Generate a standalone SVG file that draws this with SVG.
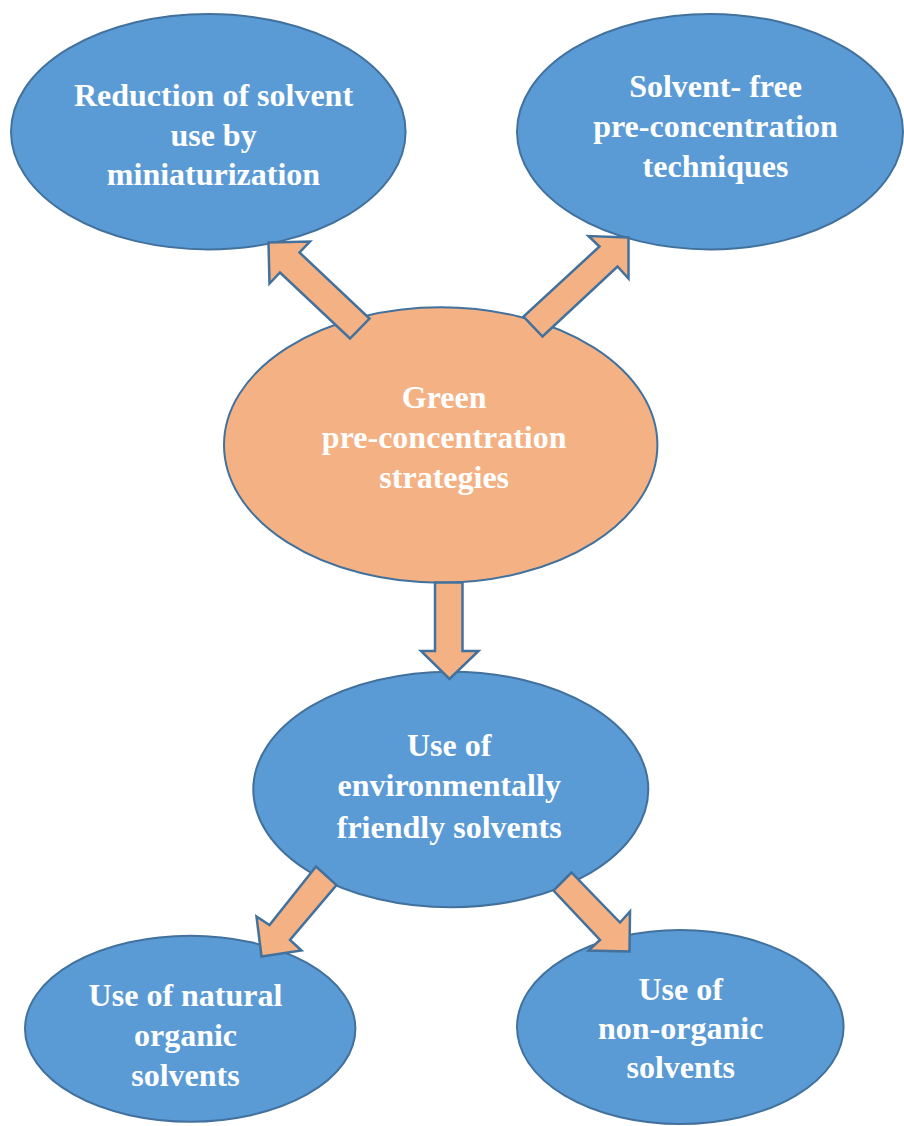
<svg xmlns="http://www.w3.org/2000/svg" width="904" height="1126" viewBox="0 0 904 1126">
<style>
.blue{fill:#5B9BD5;stroke:#41719C;stroke-width:2}
.orange{fill:#F4B183;stroke:#41719C;stroke-width:2}
.arrow{fill:#F4B183;stroke:#41719C;stroke-width:2.5;stroke-linejoin:miter}
.t{font-family:"Liberation Serif","Times New Roman",serif;font-weight:bold;font-size:32px;fill:#FFFFFF;text-anchor:middle}
</style>
<rect width="904" height="1126" fill="#FFFFFF"/>
<g id="node-reduction">
<ellipse class="blue" cx="208.3" cy="131.7" rx="197.3" ry="117.7"/>
<text class="t"><tspan x="213.5" y="106">Reduction of solvent</tspan><tspan x="213.5" y="145.7">use by</tspan><tspan x="213.5" y="185">miniaturization</tspan></text>
</g>
<g id="node-solventfree">
<ellipse class="blue" cx="710" cy="131.7" rx="193" ry="117.7"/>
<text class="t"><tspan x="715.5" y="97.3">Solvent- free</tspan><tspan x="715.5" y="137.3">pre-concentration</tspan><tspan x="715.5" y="176.7">techniques</tspan></text>
</g>
<g id="node-green">
<ellipse class="orange" cx="440.7" cy="445" rx="216.7" ry="137.7"/>
<text class="t"><tspan x="444.2" y="408.3">Green</tspan><tspan x="444.2" y="447.7">pre-concentration</tspan><tspan x="444.2" y="488.3">strategies</tspan></text>
</g>
<g id="node-envfriendly">
<ellipse class="blue" cx="450.8" cy="789.5" rx="197.5" ry="117.8"/>
<text class="t"><tspan x="449.2" y="756">Use of</tspan><tspan x="449.2" y="796">environmentally</tspan><tspan x="449.2" y="837.7">friendly solvents</tspan></text>
</g>
<g id="node-natural">
<ellipse class="blue" cx="190.2" cy="1028.7" rx="165.2" ry="93"/>
<text class="t"><tspan x="185.5" y="1006">Use of natural</tspan><tspan x="185.5" y="1045.7">organic</tspan><tspan x="185.5" y="1085.7">solvents</tspan></text>
</g>
<g id="node-nonorganic">
<ellipse class="blue" cx="680.3" cy="1027" rx="163.3" ry="97"/>
<text class="t"><tspan x="680.7" y="1000">Use of</tspan><tspan x="680.7" y="1039">non-organic</tspan><tspan x="680.7" y="1078.3">solvents</tspan></text>
</g>
<g id="connectors">
<polygon class="arrow" points="268.5,242.5 310,241.5 299.5,252.5 369.5,318.5 350,338.5 280,272.5 269.5,283.5"/>
<polygon class="arrow" points="628.5,237.5 588.5,236 599.5,246.5 523.5,316.5 542.5,336.5 617.5,266.5 628.5,278.5"/>
<polygon class="arrow" points="435,582.5 462.5,582.5 462.5,651 478.5,651 449.5,679 421,651 435,651"/>
<polygon class="arrow" points="316,866.5 336.5,885 290,940 301.5,950.5 261.5,956.5 256.5,916.5 269.5,925"/>
<polygon class="arrow" points="571.5,872.5 553.5,890.5 600,940 588.5,950.5 629.5,951.5 630,911.5 620,922.5"/>
</g>
</svg>
